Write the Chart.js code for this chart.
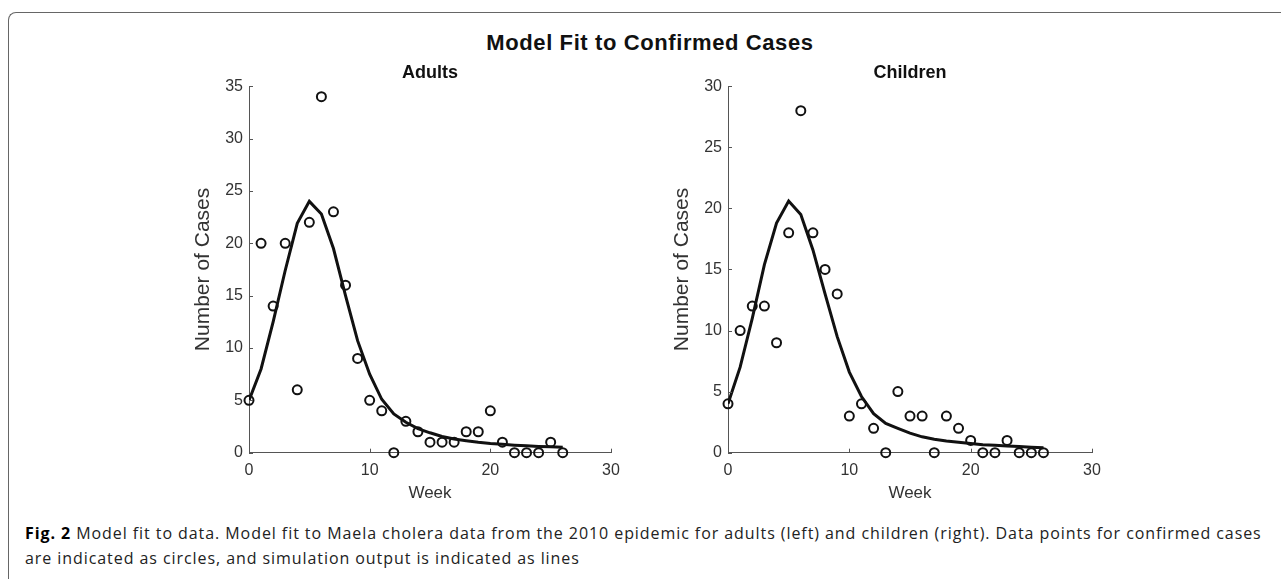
<!DOCTYPE html>
<html>
<head>
<meta charset="utf-8">
<script src="https://cdn.jsdelivr.net/npm/chart.js@4.4.1/dist/chart.umd.min.js"></script>
<style>
  html, body { margin: 0; padding: 0; background: #fff; }
  body { width: 1281px; height: 579px; position: relative; overflow: hidden; font-family: "Liberation Sans", Arial, sans-serif; }
  .frame { position: absolute; left: 8px; top: 12px; width: 1400px; height: 700px;
           border-left: 1.5px solid #666; border-top: 1.5px solid #666; border-top-left-radius: 8px; }
  .main-title { position: absolute; left: 0; width: 1300px; top: 29.6px; text-align: center;
                font-weight: bold; font-size: 22px; line-height: 25px; letter-spacing: 0.6px; color: #111; }
  .plot { position: absolute; top: 56px; }
  #adults-wrap { left: 180px; }
  #children-wrap { left: 659px; }
  .caption { position: absolute; left: 25px; top: 520.5px; white-space: nowrap;
             font-family: "Open Sans", sans-serif; font-size: 16px; line-height: 25px; color: #222; }
  .caption b { color: #000; }
</style>
</head>
<body>
<div class="frame"></div>
<div class="main-title">Model Fit to Confirmed Cases</div>
<div class="plot" id="adults-wrap"><canvas id="adults-chart" width="460" height="460"></canvas></div>
<div class="plot" id="children-wrap"><canvas id="children-chart" width="460" height="460"></canvas></div>
<div class="caption" id="caption"><span id="caption-line1"><b>Fig. 2</b> Model fit to data. Model fit to Maela cholera data from the 2010 epidemic for adults (left) and children (right). Data points for confirmed cases</span><br>are indicated as circles, and simulation output is indicated as lines</div>

<script>
// week numbers shared by both panels
const weeks = [0, 1, 2, 3, 4, 5, 6, 7, 8, 9, 10, 11, 12, 13, 14, 15, 16, 17, 18, 19, 20, 21, 22, 23, 24, 25, 26];

// confirmed cases (circles)
const adults_cases = [5, 20, 14, 20, 6, 22, 34, 23, 16, 9, 5, 4, 0, 3, 2, 1, 1, 1, 2, 2, 4, 1, 0, 0, 0, 1, 0];
const children_cases = [4, 10, 12, 12, 9, 18, 28, 18, 15, 13, 3, 4, 2, 0, 5, 3, 3, 0, 3, 2, 1, 0, 0, 1, 0, 0, 0];

// simulation output (line)
const adults_model = [5, 8, 12.5, 17.4, 21.9, 24, 22.8, 19.5, 15, 10.7, 7.5, 5.1, 3.7, 2.9, 2.3, 1.9, 1.55, 1.3, 1.15, 1.0, 0.88, 0.8, 0.72, 0.66, 0.6, 0.56, 0.52];
const children_model = [4, 7, 11, 15.4, 18.8, 20.6, 19.5, 16.6, 13, 9.5, 6.6, 4.6, 3.2, 2.4, 2.0, 1.6, 1.3, 1.1, 0.95, 0.85, 0.75, 0.66, 0.6, 0.55, 0.5, 0.45, 0.4];

const x_max = 30;
const x_step = 10;
const adults_y_max = 35;
const children_y_max = 30;
const y_step = 5;

const axis_colour = "#555";
const text_colour = "#333";
const mark_colour = "#111";

// MATLAB style tick marks pointing into the plot
const inwardTicks = {
  id: "inwardTicks",
  afterDraw(chart) {
    const { ctx, chartArea, scales } = chart;
    ctx.save();
    ctx.strokeStyle = axis_colour;
    ctx.lineWidth = 1;
    scales.x.ticks.forEach(t => {
      const px = Math.round(scales.x.getPixelForValue(t.value)) + 0.5;
      ctx.beginPath();
      ctx.moveTo(px, chartArea.bottom);
      ctx.lineTo(px, chartArea.bottom - 4);
      ctx.stroke();
    });
    scales.y.ticks.forEach(t => {
      const py = Math.round(scales.y.getPixelForValue(t.value)) + 0.5;
      ctx.beginPath();
      ctx.moveTo(chartArea.left, py);
      ctx.lineTo(chartArea.left + 4, py);
      ctx.stroke();
    });
    ctx.restore();
  }
};

function makePanel({ canvas_id, title, cases, model, y_max, pad_right }) {
  const ctx = document.getElementById(canvas_id).getContext("2d");

  const model_points = weeks.map((w, i) => ({ x: w, y: model[i] }));
  const case_points = weeks.map((w, i) => ({ x: w, y: cases[i] }));

  return new Chart(ctx, {
    type: "scatter",
    data: {
      datasets: [
        {
          label: "Simulation",
          data: model_points,
          showLine: true,
          borderColor: mark_colour,
          borderWidth: 3,
          pointRadius: 0,
          fill: false,
          tension: 0
        },
        {
          label: "Confirmed cases",
          data: case_points,
          showLine: false,
          pointStyle: "circle",
          pointRadius: 4.5,
          pointBorderWidth: 2,
          borderColor: mark_colour,
          backgroundColor: "rgba(0,0,0,0)",
          clip: false
        }
      ]
    },
    options: {
      responsive: false,
      animation: false,
      devicePixelRatio: 1,
      layout: { padding: { left: 0, top: 0, bottom: 0, right: pad_right } },
      plugins: {
        legend: { display: false },
        tooltip: { enabled: false },
        title: {
          display: true,
          fullSize: false,   // centre over the plot area, not the canvas
          text: title,
          color: mark_colour,
          font: { family: "Liberation Sans", size: 18, weight: "bold" },
          padding: { top: 6, bottom: 2.6 }
        }
      },
      scales: {
        x: {
          type: "linear",
          min: 0,
          max: x_max,
          grid: { display: false, drawTicks: false },
          border: { color: axis_colour, width: 1 },
          ticks: {
            stepSize: x_step,
            color: text_colour,
            padding: 8,
            font: { family: "Liberation Sans", size: 16 }
          },
          title: {
            display: true,
            text: "Week",
            color: text_colour,
            font: { family: "Liberation Sans", size: 17 },
            padding: { top: 0, bottom: 12 }
          },
          afterFit: (scale) => { scale.height = 63.3; }
        },
        y: {
          min: 0,
          max: y_max,
          grid: { display: false, drawTicks: false },
          border: { color: axis_colour, width: 1 },
          ticks: {
            stepSize: y_step,
            color: text_colour,
            padding: 6,
            font: { family: "Liberation Sans", size: 16 }
          },
          title: {
            display: true,
            text: "Number of Cases",
            color: text_colour,
            font: { family: "Liberation Sans", size: 21 },
            padding: { top: 10.4, bottom: 0 }
          },
          afterFit: (scale) => { scale.width = 69; }
        }
      }
    },
    plugins: [inwardTicks]
  });
}

makePanel({ canvas_id: "adults-chart", title: "Adults", cases: adults_cases, model: adults_model, y_max: adults_y_max, pad_right: 29 });
makePanel({ canvas_id: "children-chart", title: "Children", cases: children_cases, model: children_model, y_max: children_y_max, pad_right: 27 });

// stretch the caption tracking so the first line ends where the original does
const caption = document.getElementById("caption");
const line1 = document.getElementById("caption-line1");
const target_width = 1237;
const spacing = (target_width - line1.getBoundingClientRect().width) / line1.textContent.length;
caption.style.letterSpacing = spacing.toFixed(2) + "px";
</script>
</body>
</html>
